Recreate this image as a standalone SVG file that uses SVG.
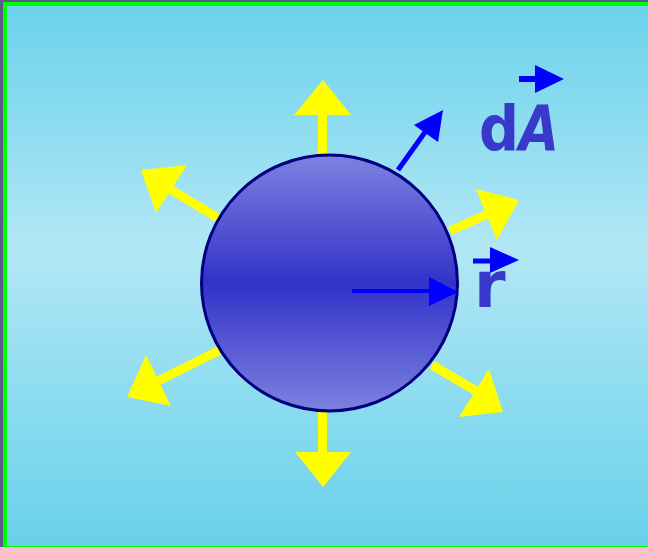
<svg xmlns="http://www.w3.org/2000/svg" width="648" height="547" viewBox="0 0 648 547">
<defs>
<linearGradient id="bg" x1="0" y1="0" x2="0" y2="1">
<stop offset="0" stop-color="#6BD2EB"/>
<stop offset="0.45" stop-color="#B2E7F5"/>
<stop offset="1" stop-color="#68D1EA"/>
</linearGradient>
<linearGradient id="ball" x1="0" y1="0" x2="0" y2="1">
<stop offset="0" stop-color="#7D82DF"/>
<stop offset="0.5" stop-color="#3232C9"/>
<stop offset="1" stop-color="#7D82DF"/>
</linearGradient>
<style>
.ys{stroke:#FFFF00;stroke-width:9;fill:none}
.yh{fill:#FFFF00}
.bs{stroke:#0000FF;fill:none}
.bh{fill:#0000FF}
.lbl{font-family:"DejaVu Sans",sans-serif;font-weight:bold;fill:#3838CA}
</style>
</defs>
<rect x="0" y="0" width="648" height="547" fill="#5A5A8C"/>
<rect x="3" y="2" width="650" height="545" fill="#00FF00"/>
<rect x="7" y="6" width="650" height="540" fill="url(#bg)"/>
<g id="connectors">
<line class="ys" x1="322.5" y1="156" x2="322.5" y2="114"/>
<polygon class="yh" points="294,115 351,115 323,80"/>
<line class="ys" x1="322.5" y1="410" x2="322.5" y2="453"/>
<polygon class="yh" points="295,452 351,452 323,487"/>
<line class="ys" x1="218" y1="218" x2="168" y2="188"/>
<polygon class="yh" points="141,170 187,165 156,213"/>
<line class="ys" x1="220" y1="350" x2="158" y2="381"/>
<polygon class="yh" points="127,397 146,355 171,406"/>
<line class="ys" x1="450" y1="231" x2="490" y2="213"/>
<polygon class="yh" points="519,200 476,189 497,240"/>
<line class="ys" x1="432" y1="365" x2="478" y2="392"/>
<polygon class="yh" points="503,412 489,369 459,417"/>
</g>
<g id="sphere">
<circle cx="329.5" cy="283" r="128" fill="url(#ball)" stroke="#000080" stroke-width="3"/>
</g>
<g id="vectors">
<line class="bs" stroke-width="5" x1="398" y1="170" x2="428" y2="128"/>
<polygon class="bh" points="443,110 414,125 438,142"/>
<line class="bs" stroke-width="4" x1="352" y1="291" x2="432" y2="291"/>
<polygon class="bh" points="429,277 429,306 458,292"/>
<line class="bs" stroke-width="5" x1="473" y1="261" x2="491" y2="261"/>
<polygon class="bh" points="490,247 490,273 519,260"/>
<line class="bs" stroke-width="6" x1="519" y1="79" x2="536" y2="79"/>
<polygon class="bh" points="535,65 535,93 564,79"/>
</g>
<g id="labels">
<text class="lbl" x="479" y="150" font-size="62" textLength="40" lengthAdjust="spacingAndGlyphs">d</text>
<text class="lbl" x="519" y="150" font-size="62" font-style="italic" textLength="40" lengthAdjust="spacingAndGlyphs">A</text>
<text class="lbl" x="474" y="307" font-size="64">r</text>
</g>
</svg>
